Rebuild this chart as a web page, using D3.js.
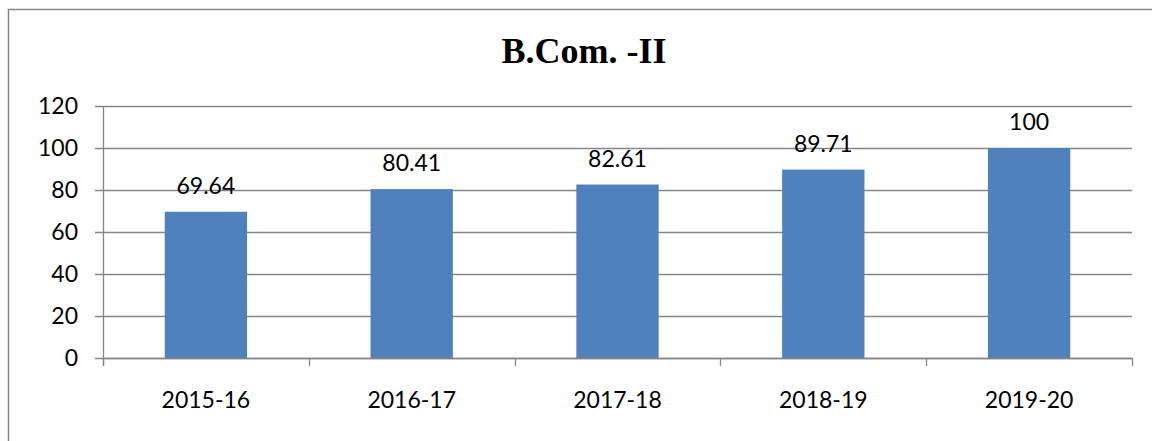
<!DOCTYPE html>
<html><head><meta charset="utf-8">
<script src="https://cdn.jsdelivr.net/npm/d3@7"></script>
<style>body{margin:0;background:#fff}svg{display:block}</style>
</head><body>
<script>
const categories = ["2015-16","2016-17","2017-18","2018-19","2019-20"];
const values = [69.64, 80.41, 82.61, 89.71, 100];
const yTicks = [0,20,40,60,80,100,120];
const title = "B.Com. -II";

(function(){
const W = 1152, H = 441;
const svg = d3.select("body").append("svg").attr("width", W).attr("height", H);
svg.append("rect").attr("x",8.5).attr("y",9.5).attr("width",1160).attr("height",460)
  .attr("fill","#fff").attr("stroke","#868686").attr("stroke-width",1.5);

const pL = 103, pR = 1132, pT = 106, pB = 358;
const x = d3.scaleBand().domain(categories).range([pL, pR]).paddingInner(0.6).paddingOuter(0.3);
const xb = d3.scaleBand().domain(categories).range([pL, pR]);
const y = d3.scaleLinear().domain([0,120]).range([pB, pT]);
const font = "Lato, 'Open Sans', sans-serif";

svg.append("g").selectAll("line").data(yTicks).join("line")
  .attr("x1", pL-8).attr("x2", pR).attr("y1", d=>Math.round(y(d))+0.5).attr("y2", d=>Math.round(y(d))+0.5)
  .attr("stroke","#868686").attr("stroke-width",1.3);
svg.append("g").selectAll("text").data(yTicks).join("text")
  .attr("x", 78).attr("y", d=>y(d)).attr("dy","0.36em").attr("text-anchor","end")
  .attr("font-family", font).attr("font-size", 23).attr("fill","#000").text(d=>d);

svg.append("g").selectAll("rect").data(values).join("rect")
  .attr("x",(d,i)=>x(categories[i])).attr("width",x.bandwidth())
  .attr("y",d=>y(d)).attr("height",d=>pB-y(d)).attr("fill","#4F81BD");

svg.append("g").selectAll("text").data(values).join("text")
  .attr("x",(d,i)=>x(categories[i])+x.bandwidth()/2).attr("y",d=>y(d)-18)
  .attr("text-anchor","middle").attr("font-family",font).attr("font-size",23).attr("fill","#000")
  .text(d=>d);

svg.append("line").attr("x1",pL+0.5).attr("x2",pL+0.5).attr("y1",pT).attr("y2",pB+8)
  .attr("stroke","#868686").attr("stroke-width",1.3);
svg.append("line").attr("x1",pL).attr("x2",pR).attr("y1",pB+0.5).attr("y2",pB+0.5)
  .attr("stroke","#868686").attr("stroke-width",1.3);
const bounds = categories.map(c=>xb(c)).concat([pR]);
svg.append("g").selectAll("line").data(bounds).join("line")
  .attr("x1",d=>Math.round(d)+0.5).attr("x2",d=>Math.round(d)+0.5).attr("y1",pB).attr("y2",pB+8)
  .attr("stroke","#868686").attr("stroke-width",1.3);
svg.append("g").selectAll("text").data(categories).join("text")
  .attr("x",d=>xb(d)+xb.bandwidth()/2).attr("y",408).attr("text-anchor","middle")
  .attr("font-family",font).attr("font-size",23).attr("fill","#000").text(d=>d);

svg.append("text").attr("x",584).attr("y",63).attr("text-anchor","middle")
  .attr("font-family","'Liberation Serif','Times New Roman',serif").attr("font-weight","bold")
  .attr("font-size",36).attr("fill","#000").text(title);
})();
</script>
</body></html>
